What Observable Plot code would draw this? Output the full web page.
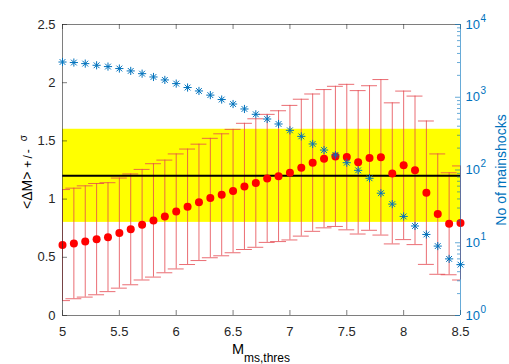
<!DOCTYPE html>
<html><head><meta charset="utf-8">
<script src="https://cdn.jsdelivr.net/npm/d3@7"></script>
<script src="https://cdn.jsdelivr.net/npm/@observablehq/plot@0.6"></script>
<style>
body{margin:0;background:#fff;}
#wrap{position:relative;width:509px;height:364px;overflow:hidden;}
#wrap svg{position:absolute;left:0;top:0;}
</style></head><body><div id="wrap"></div>
<script>
// ---- data ----
const mThres = [5.0,5.1,5.2,5.3,5.4,5.5,5.6,5.7,5.8,5.9,6.0,6.1,6.2,6.3,6.4,6.5,6.6,6.7,6.8,6.9,7.0,7.1,7.2,7.3,7.4,7.5,7.6,7.7,7.8,7.9,8.0,8.1,8.2,8.3,8.4,8.5];
const meanDM = [0.605,0.619,0.636,0.656,0.673,0.708,0.740,0.780,0.817,0.851,0.894,0.934,0.972,1.009,1.037,1.069,1.109,1.138,1.178,1.197,1.227,1.270,1.313,1.347,1.367,1.361,1.316,1.353,1.359,1.221,1.290,1.247,1.055,0.871,0.788,0.795];
const sigmaDM = [0.477,0.475,0.478,0.478,0.468,0.473,0.476,0.475,0.487,0.484,0.494,0.496,0.500,0.513,0.524,0.530,0.542,0.552,0.550,0.562,0.578,0.588,0.590,0.594,0.602,0.625,0.616,0.621,0.668,0.606,0.638,0.638,0.616,0.517,0.438,0.490];
const nMainshocks = [3050,3000,2900,2750,2640,2480,2300,2110,1900,1730,1540,1360,1220,1070,930,807,690,583,502,429,351,290,228,188,161,126,99,77,48,34,23,17,13,9,6,5];
const xDomain = [5, 8.5];
const yDomain = [0, 2.5];
const nDomain = [1, 10000];
const xTicks = [5,5.5,6,6.5,7,7.5,8,8.5];
const yTicks = [0,0.5,1,1.5,2,2.5];
const nTicks = [1,10,100,1000,10000];
const bandRange = [0.8, 1.6];
const refLevel = 1.2;

// ---- layout ----
const W = 509, H = 364;
const mt = 24, mr = 49, mb = 49, ml = 62;
const innerW = W - ml - mr, innerH = H - mt - mb;
const font = "'Liberation Sans', Arial, Helvetica, sans-serif";
const axisCol = "#262626";
const blue = "#0072BD";
const errCol = "#e5484f";
const capHalf = 0.07;
const nMinor = [];
for (const d of [1,10,100,1000]) for (let k = 2; k <= 9; k++) nMinor.push(d*k);

const rows = mThres.map((x,i) => ({x, m: meanDM[i], s: sigmaDM[i], n: nMainshocks[i]}));

const asterisk = {
  draw(ctx, size) {
    const r = Math.sqrt(size) * 0.5, d = r * Math.SQRT1_2;
    ctx.moveTo(-r,0); ctx.lineTo(r,0);
    ctx.moveTo(0,-r); ctx.lineTo(0,r);
    ctx.moveTo(-d,-d); ctx.lineTo(d,d);
    ctx.moveTo(-d,d); ctx.lineTo(d,-d);
  }
};

const common = {
  width: W, height: H, marginTop: mt, marginRight: mr, marginBottom: mb, marginLeft: ml,
  style: {fontFamily: font, fontSize: "13px", background: "transparent", color: axisCol, overflow: "visible"}
};

const leftPlot = Plot.plot({
  ...common,
  x: {domain: xDomain, label: null},
  y: {domain: yDomain, label: null},
  marks: [
    Plot.rect([bandRange], {x1: () => xDomain[0], x2: () => xDomain[1], y1: d => d[0], y2: d => d[1], fill: "#ffff00"}),
    Plot.ruleX(rows, {x: "x", y1: d => d.m - d.s, y2: d => d.m + d.s, stroke: errCol, strokeWidth: 0.8}),
    Plot.ruleY(rows, {y: d => d.m + d.s, x1: d => d.x - capHalf, x2: d => d.x + capHalf, stroke: errCol, strokeWidth: 0.8, clip: true}),
    Plot.ruleY(rows, {y: d => d.m - d.s, x1: d => d.x - capHalf, x2: d => d.x + capHalf, stroke: errCol, strokeWidth: 0.8, clip: true}),
    Plot.ruleY([refLevel], {stroke: "#000", strokeWidth: 2}),
    Plot.dot(rows, {x: "x", y: "m", r: 4, fill: "#ff0000", stroke: "none"}),
    Plot.ruleX([xDomain[0]], {stroke: axisCol, strokeWidth: 0.6}),
    Plot.ruleY([yDomain[0]], {stroke: axisCol, strokeWidth: 0.6}),
    Plot.ruleY([yDomain[1]], {stroke: axisCol, strokeWidth: 0.6}),
    Plot.tickX(xTicks, {x: d => d, insetTop: innerH - 5, stroke: axisCol, strokeWidth: 0.6}),
    Plot.tickX(xTicks, {x: d => d, insetBottom: innerH - 5, stroke: axisCol, strokeWidth: 0.6}),
    Plot.tickY(yTicks, {y: d => d, insetRight: innerW - 5, stroke: axisCol, strokeWidth: 0.6}),
    Plot.axisX(xTicks, {tickSize: 0, tickPadding: 11, tickFormat: d => String(d), fill: axisCol, fontSize: 13}),
    Plot.axisY(yTicks, {tickSize: 0, tickPadding: 7, tickFormat: d => String(d), fill: axisCol, fontSize: 13})
  ]
});

const rightPlot = Plot.plot({
  ...common,
  x: {domain: xDomain, axis: null},
  y: {type: "log", domain: nDomain, axis: null},
  marks: [
    Plot.ruleX([xDomain[1]], {stroke: blue, strokeWidth: 0.6}),
    Plot.tickY(nTicks, {y: d => d, insetLeft: innerW - 5, stroke: blue, strokeWidth: 0.6}),
    Plot.tickY(nMinor, {y: d => d, insetLeft: innerW - 3, stroke: blue, strokeWidth: 0.6}),
    Plot.dot(rows, {x: "x", y: "n", r: 4.6, symbol: asterisk, stroke: blue, strokeWidth: 1, fill: "none"}),
    Plot.text(nTicks, {y: d => d, frameAnchor: "right", text: () => "10", textAnchor: "start", dx: 5, fill: blue, fontSize: 13}),
    Plot.text(nTicks, {y: d => d, frameAnchor: "right", text: d => String(Math.round(Math.log10(d))), textAnchor: "start", dx: 20, dy: -6, fill: blue, fontSize: 10})
  ]
});

const wrap = document.getElementById("wrap");
wrap.appendChild(leftPlot);
wrap.appendChild(rightPlot);

// axis titles
const svg = d3.select(rightPlot);
const yl = svg.append("text")
  .attr("transform", `translate(32,209) rotate(-90)`)
  .attr("text-anchor", "start").attr("font-family", font).attr("fill", "#000");
yl.append("tspan").attr("font-size", 14).text("<ΔM>");
yl.append("tspan").attr("font-size", 12).attr("dx", 4).attr("letter-spacing", 2).text("+/-");
yl.append("tspan").attr("font-size", 10).attr("dx", 6).attr("dy", -5).text("σ");

svg.append("text")
  .attr("transform", `translate(506,170) rotate(-90)`)
  .attr("text-anchor", "middle").attr("font-family", font).attr("font-size", 14)
  .attr("fill", blue).text("No of mainshocks");

const xl = svg.append("text")
  .attr("x", ml + innerW/2).attr("y", 354)
  .attr("text-anchor", "middle").attr("font-family", font).attr("fill", "#000");
xl.append("tspan").attr("font-size", 14.5).text("M");
xl.append("tspan").attr("font-size", 12).attr("dy", 8).text("ms,thres");
</script>
</body></html>
